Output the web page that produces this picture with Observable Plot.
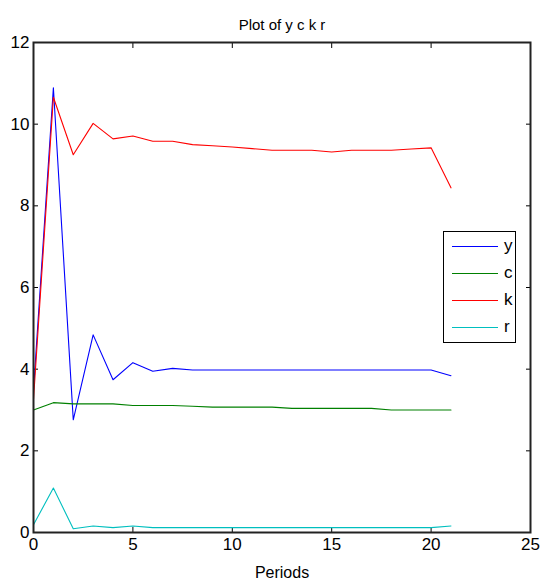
<!DOCTYPE html>
<html>
<head>
<meta charset="utf-8">
<script src="https://cdn.jsdelivr.net/npm/d3@7"></script>
<script src="https://cdn.jsdelivr.net/npm/@observablehq/plot@0.6"></script>
<style>
  html, body { margin: 0; padding: 0; background: #fff; }
  #wrap { position: relative; width: 542px; height: 582px; }
  .legend {
    position: absolute; left: 443px; top: 231px; width: 73px; height: 112px;
    border: 1px solid #000; background: #fff; box-sizing: border-box;
    font-family: "Liberation Sans Narrow", "Liberation Sans", Arial, sans-serif; font-size: 17px;
  }
  .legend .row { position: absolute; left: 0; height: 20px; width: 100%; }
  .legend .sw { position: absolute; left: 8px; width: 46px; top: 9px; height: 0; border-top: 1px solid; }
  .legend .lb { position: absolute; left: 60px; top: -1px; line-height: 20px; }
</style>
</head>
<body>
<div id="wrap"></div>
<script>
const periods = d3.range(0, 22);
const ySeries = [3.48, 10.89, 2.76, 4.84, 3.74, 4.16, 3.95, 4.02, 3.98, 3.98, 3.98, 3.98, 3.98, 3.98, 3.98, 3.98, 3.98, 3.98, 3.98, 3.98, 3.98, 3.84];
const cSeries = [3.00, 3.18, 3.15, 3.15, 3.15, 3.11, 3.11, 3.11, 3.09, 3.07, 3.07, 3.07, 3.07, 3.04, 3.04, 3.04, 3.04, 3.04, 3.00, 3.00, 3.00, 3.00];
const kSeries = [3.26, 10.66, 9.25, 10.02, 9.64, 9.71, 9.58, 9.58, 9.50, 9.47, 9.44, 9.40, 9.36, 9.36, 9.36, 9.32, 9.36, 9.36, 9.36, 9.39, 9.42, 8.44];
const rSeries = [0.19, 1.09, 0.09, 0.16, 0.12, 0.16, 0.12, 0.12, 0.12, 0.12, 0.12, 0.12, 0.12, 0.12, 0.12, 0.12, 0.12, 0.12, 0.12, 0.12, 0.12, 0.16];
const seriesNames = ["y", "c", "k", "r"];
const seriesColors = ["#0000ff", "#008000", "#ff0000", "#00bfbf"];
const xTicks = [0, 5, 10, 15, 20, 25];
const yTicks = [0, 2, 4, 6, 8, 10, 12];
const titleText = "Plot of y c k r";
const xLabel = "Periods";

const allSeries = [ySeries, cSeries, kSeries, rSeries];
const data = [];
allSeries.forEach((vals, i) => vals.forEach((v, j) => data.push({t: periods[j], v, s: seriesNames[i]})));

const font = '"Liberation Sans Narrow", "Liberation Sans", Arial, sans-serif';

const chart = Plot.plot({
  width: 542,
  height: 582,
  marginLeft: 33,
  marginRight: 12,
  marginTop: 42,
  marginBottom: 50,
  style: {fontFamily: font, fontSize: "17px", color: "#000", background: "#fff"},
  x: {domain: [0, 25]},
  y: {domain: [0, 12]},
  color: {domain: seriesNames, range: seriesColors},
  marks: [
    Plot.axisX({ticks: xTicks, tickSize: 0, tickPadding: 5, label: null, fontSize: 17}),
    Plot.axisX({ticks: xTicks, tickSize: -5, tickFormat: () => "", label: null}),
    Plot.axisX({anchor: "top", ticks: xTicks, tickSize: -5, tickFormat: () => "", label: null}),
    Plot.axisY({ticks: yTicks, tickSize: 0, tickPadding: 4, label: null, fontSize: 17}),
    Plot.axisY({ticks: yTicks, tickSize: -5, tickFormat: () => "", label: null}),
    Plot.axisY({anchor: "right", ticks: yTicks, tickSize: -5, tickFormat: () => "", label: null}),
    Plot.line(data, {x: "t", y: "v", z: "s", stroke: "s", strokeWidth: 1.1}),
    Plot.frame({stroke: "#222", strokeWidth: 2}),
    Plot.text([titleText], {frameAnchor: "top", dy: -23, fontSize: 15, text: d => d}),
    Plot.text([xLabel], {frameAnchor: "bottom", dy: 45, fontSize: 16, text: d => d})
  ]
});
const wrap = document.getElementById("wrap");
wrap.appendChild(chart);

const legend = document.createElement("div");
legend.className = "legend";
seriesNames.forEach((n, i) => {
  const row = document.createElement("div");
  row.className = "row";
  row.style.top = (5 + i * 27) + "px";
  const sw = document.createElement("div");
  sw.className = "sw";
  sw.style.borderColor = seriesColors[i];
  const lb = document.createElement("div");
  lb.className = "lb";
  lb.textContent = n;
  row.appendChild(sw); row.appendChild(lb);
  legend.appendChild(row);
});
wrap.appendChild(legend);
</script>
</body>
</html>
